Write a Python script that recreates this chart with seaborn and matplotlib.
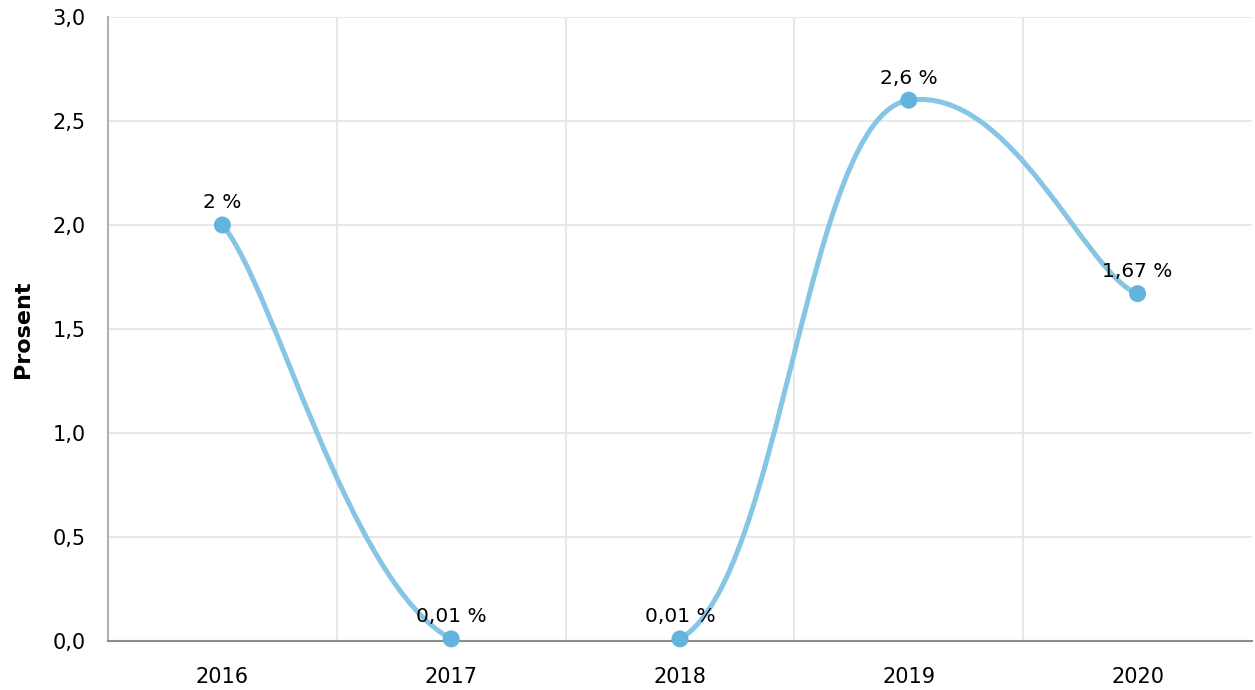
import matplotlib
matplotlib.use("Agg")
import matplotlib.pyplot as plt
import matplotlib.patches as mpatches
from matplotlib.path import Path
import numpy as np
import pandas as pd
import seaborn as sns

years = ["2016", "2017", "2018", "2019", "2020"]
values = [2.0, 0.01, 0.01, 2.6, 1.67]
labels = ["2 %", "0,01 %", "0,01 %", "2,6 %", "1,67 %"]
y_ticks = [0.0, 0.5, 1.0, 1.5, 2.0, 2.5, 3.0]

LINE = "#87c5e4"
DOT = "#62b4dd"
GRID = "#e6e6e6"
AXIS = "#9a9a9a"


def smooth_path(ax, xs, ys, alpha=0.6, inner=0.45, outer=0.225):
    # catmull-rom like tangents, weighted by on-screen segment length
    xs = np.asarray(xs, float)
    ys = np.asarray(ys, float)
    n = len(xs)
    disp = ax.transData.transform(np.column_stack([xs, ys]))
    seg = np.hypot(*np.diff(disp, axis=0).T)
    chord = np.diff(ys) / np.diff(xs)
    slope = np.zeros(n)
    for i in range(1, n - 1):
        rho = (seg[i - 1] / seg[i]) ** (2 * alpha)
        slope[i] = (chord[i - 1] + rho * chord[i]) / (1 + rho)
    slope[0] = (chord[0] + slope[1]) / 2
    slope[-1] = (chord[-1] + slope[-2]) / 2

    verts = [(xs[0], ys[0])]
    codes = [Path.MOVETO]
    for i in range(n - 1):
        dx = xs[i + 1] - xs[i]
        h0 = outer if i == 0 else inner
        h1 = outer if i + 1 == n - 1 else inner
        c1 = (xs[i] + h0 * dx, ys[i] + h0 * dx * slope[i])
        c2 = (xs[i + 1] - h1 * dx, ys[i + 1] - h1 * dx * slope[i + 1])
        verts += [c1, c2, (xs[i + 1], ys[i + 1])]
        codes += [Path.CURVE4] * 3
    return Path(verts, codes)


df = pd.DataFrame({"year": years, "value": values, "label": labels})
df["pos"] = np.arange(len(df))

sns.set_theme(style="white")
plt.rcParams["font.family"] = ["DejaVu Sans"]

fig = plt.figure(figsize=(12.55, 6.9), dpi=100)
ax = fig.add_axes([108 / 1255, 49 / 690, 1144 / 1255, 624 / 690])
ax.set_xlim(-0.5, len(years) - 0.5)
ax.set_ylim(0, 3.0)

# grid
for y in y_ticks:
    ax.axhline(y, color=GRID, lw=1.3, zorder=0)
for b in np.arange(0.5, len(years) - 0.5, 1.0):
    ax.axvline(b, color=GRID, lw=1.3, zorder=0)

path = smooth_path(ax, df["pos"], df["value"])
ax.add_patch(mpatches.PathPatch(path, facecolor="none", edgecolor=LINE,
                                lw=3.6, capstyle="round", zorder=2))

sns.scatterplot(data=df, x="pos", y="value", color=DOT, s=150,
                edgecolor="none", zorder=3, ax=ax, clip_on=False)

for _, r in df.iterrows():
    ax.annotate(r["label"], (r["pos"], r["value"]), xytext=(0, 9),
                textcoords="offset points", ha="center", va="bottom",
                fontsize=14.5, color="#000000", zorder=4)

ax.set_xticks(df["pos"])
ax.set_xticklabels(years)
ax.set_yticks(y_ticks)
ax.set_yticklabels([f"{t:.1f}".replace(".", ",") for t in y_ticks])
ax.tick_params(axis="both", labelsize=15, colors=AXIS, labelcolor="#000000",
               width=1.2, direction="out")
ax.tick_params(axis="x", length=5, pad=14)
ax.tick_params(axis="y", length=8, pad=8)
ax.set_xlabel("")
ax.set_ylabel("Prosent", fontsize=16, fontweight="bold", labelpad=14,
              color="#000000")

for side in ["top", "right"]:
    ax.spines[side].set_visible(False)
ax.spines["left"].set_color("#b0b0b0")
ax.spines["left"].set_linewidth(1.5)
ax.spines["bottom"].set_color("#8c8c8c")
ax.spines["bottom"].set_linewidth(1.5)

fig.savefig("out.png", dpi=100)
